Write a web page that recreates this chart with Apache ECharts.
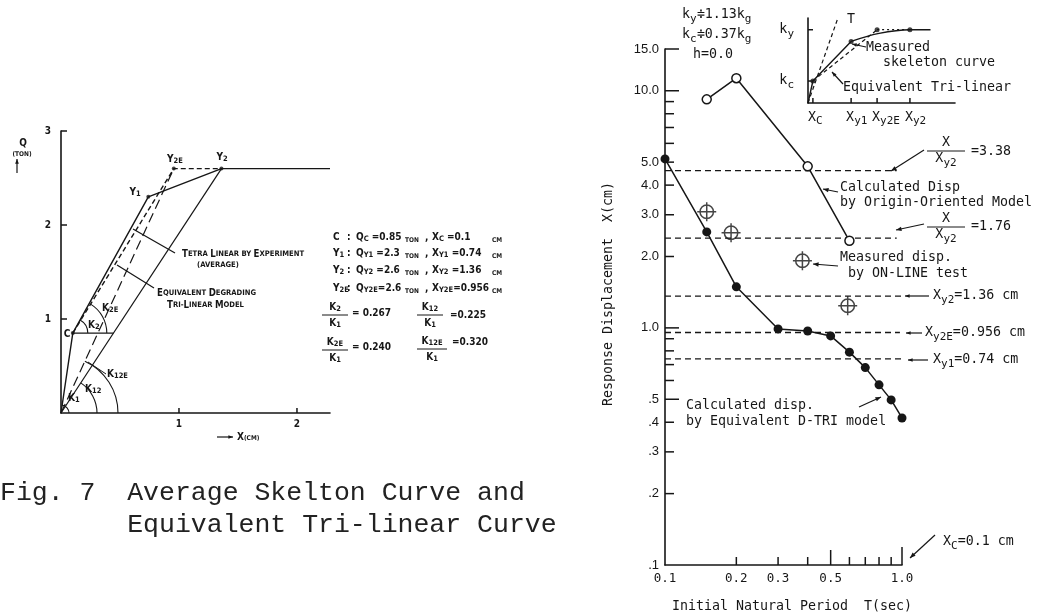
<!DOCTYPE html>
<html><head><meta charset="utf-8">
<script src="https://cdn.jsdelivr.net/npm/echarts@6/dist/echarts.min.js"></script>
<style>html,body{margin:0;padding:0;background:#fff}#c{width:1040px;height:616px}</style>
</head><body><div id="c"></div>
<script>
// ---------- Fig. 7 (left): skeleton curves, Q (ton) vs X (cm) ----------
const tetraLinear   = [[0,0],[0.1,0.85],[0.74,2.3],[1.36,2.6],[2.28,2.6]];
const triLinearEq   = [[0.1,0.85],[0.956,2.6],[1.36,2.6]];
const k12Line       = [[0,0],[1.36,2.6]];
const k12eLine      = [[0,0],[0.956,2.6]];
const cLevelLine    = [[0.1,0.85],[0.445,0.85]];
const keyPoints     = [[0.1,0.85],[0.74,2.3],[0.956,2.6],[1.36,2.6]];
const angleArcs     = [[0.1,0.85,0.74,2.3],[0.1,0.85,0.956,2.6],[0,0,1.36,2.6],[0,0,0.956,2.6],[0,0,0.1,0.85]];
const leftXTicks = [1,2];          const leftXLabels = ['1','2'];
const leftYTicks = [1,2,3];        const leftYLabels = ['1','2','3'];

// ---------- Right: response displacement vs initial natural period ----------
const periodDTri = [0.1,0.15,0.2,0.3,0.4,0.5,0.6,0.7,0.8,0.9,1.0];
const dispDTri   = [5.16,2.54,1.49,0.99,0.97,0.925,0.79,0.68,0.575,0.497,0.417];
const periodOrig = [0.15,0.2,0.4,0.6];
const dispOrig   = [9.2,11.3,4.8,2.33];
const periodMeas = [0.15,0.19,0.38,0.59];
const dispMeas   = [3.09,2.52,1.92,1.24];
const refLevels    = [4.6,2.39,1.36,0.956,0.74];   // 3.38*Xy2, 1.76*Xy2, Xy2, Xy2E, Xy1
const refLevelEnds = [0.95,0.95,1.0,0.98,1.0];
const yLongTicks  = [0.5,1,10,15];
const yShortTicks = [0.2,0.3,0.4,2,3,4,5,0.6,0.7,0.8,0.9,6,7,8,9];
const yLabelVals  = [0.1,0.2,0.3,0.4,0.5,1,2,3,4,5,10,15];
const yLabelText  = ['.1','.2','.3','.4','.5','1.0','2.0','3.0','4.0','5.0','10.0','15.0'];
const xShortTicks = [0.2,0.3,0.4,0.6,0.7,0.8,0.9];
const xMidTicks   = [0.5];
const xLongTicks  = [1.0];
const xLabelVals  = [0.1,0.2,0.3,0.5,1.0];
const xLabelText  = ['0.1','0.2','0.3','0.5','1.0'];

// ---------- Inset: schematic skeleton ----------
const insetMeasuredA = [[0,0],[0.1,0.3],[0.88,0.84]];
const insetMeasuredB = [[0.88,0.84],[1.45,0.95],[2.08,1.0],[2.5,1.0]];
const insetTriDashed = [[0.1,0.3],[1.41,1.0]];
const insetTriDotted = [[1.41,1.0],[2.08,1.0]];
const insetTangent   = [[0,0],[0.6,1.14]];
const insetDots      = [[0.1,0.3],[0.88,0.84],[1.41,1.0],[2.08,1.0]];
const insetXVals = [0.1,0.88,1.41,2.08]; const insetXText = ['X_{C}','X_{y1}','X_{y2E}','X_{y2}'];
const insetYVals = [1.0,0.3];            const insetYText = ['k_{y}','k_{c}'];

// ---------- styling ----------
const INK = '#161616';
const MONO = '"DejaVu Sans Mono","Liberation Mono",monospace';
const LEFTF = '"DejaVu Sans Condensed","Liberation Sans Narrow","DejaVu Sans",sans-serif';
const TICKF = '"Liberation Sans Narrow","Liberation Sans",Arial,sans-serif';
const R = {
  mono: {n:{fontFamily:MONO,fontSize:13.3,fill:INK}, s:{fontFamily:MONO,fontSize:11,fill:INK,padding:[8,0,0,0]}},
  left: {n:{fontFamily:LEFTF,fontSize:10,fontWeight:'bold',fill:INK}, s:{fontFamily:LEFTF,fontSize:7.5,fontWeight:'bold',fill:INK,padding:[5,0,0,0]},
         t:{fontFamily:LEFTF,fontSize:6.5,fontWeight:'bold',fill:INK,padding:[3,0,0,0]}},
  caps: {b:{fontFamily:LEFTF,fontSize:9.6,fontWeight:'bold',fill:INK}, s:{fontFamily:LEFTF,fontSize:7.6,fontWeight:'bold',fill:INK,padding:[1,0,0,0]}},
  tick: {n:{fontFamily:TICKF,fontSize:13,fill:INK}},
  xt: {n:{fontFamily:MONO,fontSize:12.5,fill:INK}}
};
function rt(str){ return '{n|' + str.replace(/_\{([^}]*)\}/g, '}{s|$1}{n|') + '}'; }
function txt(x,y,str,rich,align){ return {type:'text',x,y,silent:true,style:{text:rt(str),rich:rich||R.mono,align:align||'left',verticalAlign:'middle',fill:INK}}; }
function rawtxt(x,y,str,rich,align){ return {type:'text',x,y,silent:true,style:{text:str,rich:rich,align:align||'left',verticalAlign:'middle',fill:INK}}; }
function seg(x1,y1,x2,y2,w){ return {type:'line',silent:true,shape:{x1,y1,x2,y2},style:{stroke:INK,lineWidth:w||1.2}}; }
function arrow(x1,y1,x2,y2,h){
  h = h||6; const a = Math.atan2(y2-y1,x2-x1);
  return [seg(x1,y1,x2,y2,1.2), {type:'polygon',silent:true,shape:{points:[[x2,y2],[x2-h*Math.cos(a-0.38),y2-h*Math.sin(a-0.38)],[x2-h*Math.cos(a+0.38),y2-h*Math.sin(a+0.38)]]},style:{fill:INK}}];
}
function frac(cx,yTop,num,den,w,rich){
  return [txt(cx,yTop,num,rich,'center'), seg(cx-w/2,yTop+8,cx+w/2,yTop+8,1), txt(cx,yTop+16,den,rich,'center')];
}

// generic tick + label drawer through the axes' own scales
function tickSeries(o){
  return {
    type:'custom', xAxisIndex:o.xi, yAxisIndex:o.yi, silent:true, z:6, clip:false,
    dimensions:['x','y','i'], encode:{x:0,y:1},
    data:o.values.map((v,i)=> o.dir==='y' ? [o.at,v,i] : [v,o.at,i]),
    renderItem(params, api){
      const i = api.value(2);
      const p = api.coord([api.value(0), api.value(1)]);
      const ch = [];
      if (o.len){
        ch.push({type:'line',shape:o.dir==='y'?{x1:p[0],y1:p[1],x2:p[0]+o.len,y2:p[1]}:{x1:p[0],y1:p[1],x2:p[0],y2:p[1]-o.len},style:{stroke:INK,lineWidth:o.lw||1.5}});
      }
      if (o.labels){
        ch.push({type:'text', x:p[0]+(o.dir==='y'?-o.gap:(o.dx||0)), y:p[1]+(o.dir==='y'?0:o.gap),
          style:{text:rt(o.labels[i]),rich:o.rich,align:o.align||(o.dir==='y'?'right':'center'),verticalAlign:o.dir==='y'?'middle':'top',fill:INK}});
      }
      return {type:'group',children:ch};
    }
  };
}
function lineS(data,xi,yi,opts){
  return Object.assign({type:'line',xAxisIndex:xi,yAxisIndex:yi,data,symbol:'none',silent:true,clip:false,
    lineStyle:{color:INK,width:1.3}}, opts||{});
}

const chart = echarts.init(document.getElementById('c'), null, {renderer:'canvas'});
const axisLineStyle = {show:true,lineStyle:{color:INK,width:1.6}};
const hiddenBits = {axisTick:{show:false},axisLabel:{show:false},splitLine:{show:false}};

const graphic = [];
// --- left chart annotations
graphic.push(txt(23,143,'Q',R.left,'center'), rawtxt(22,153,'{t|(TON)}',R.left,'center'));
graphic.push(...arrow(17,173,17,159,5));
graphic.push(...arrow(217,437,233,437,5), rawtxt(237,437,'{n|X}{t|(CM)}',R.left));
graphic.push(txt(135,192,'Y_{1}',R.left,'center'), txt(175,159,'Y_{2E}',R.left,'center'), txt(222,157,'Y_{2}',R.left,'center'));
graphic.push(txt(67,334,'C',R.left,'center'), txt(88,325,'K_{2}',R.left), txt(102,308,'K_{2E}',R.left));
graphic.push(txt(107,374,'K_{12E}',R.left), txt(85,389,'K_{12}',R.left), txt(68,398,'K_{1}',R.left));
graphic.push(seg(88,362,106,374,1));
graphic.push(rawtxt(182,254,'{b|T}{s|ETRA }{b|L}{s|INEAR BY }{b|E}{s|XPERIMENT}',R.caps));
graphic.push(rawtxt(218,265,'{s|(AVERAGE)}',R.caps,'center'));
graphic.push(seg(175,253,133,229,1.2));
graphic.push(rawtxt(157,293,'{b|E}{s|QUIVALENT }{b|D}{s|EGRADING}',R.caps));
graphic.push(rawtxt(167,305,'{b|T}{s|RI-}{b|L}{s|INEAR }{b|M}{s|ODEL}',R.caps));
graphic.push(seg(154,288,117,265,1.2));
// parameter block
const rowsY = [237,253,270,288];
const rowHead = ['C','Y_{1}','Y_{2}','Y_{2E}'];
const rowQ = ['Q_{C} =0.85','Q_{Y1} =2.3','Q_{Y2} =2.6','Q_{Y2E}=2.6'];
const rowX = ['X_{C} =0.1','X_{Y1} =0.74','X_{Y2} =1.36','X_{Y2E}=0.956'];
rowsY.forEach((y,i)=>{
  graphic.push(txt(333,y,rowHead[i],R.left), txt(347,y,':',R.left), txt(356,y,rowQ[i],R.left),
    rawtxt(405,y+2,'{t|TON}',R.left), txt(425,y,',',R.left), txt(432,y,rowX[i],R.left), rawtxt(492,y+2,'{t|CM}',R.left));
});
graphic.push(...frac(335,307,'K_{2}','K_{1}',26,R.left), txt(352,313,'= 0.267',R.left));
graphic.push(...frac(430,307,'K_{12}','K_{1}',26,R.left), txt(450,315,'=0.225',R.left));
graphic.push(...frac(335,342,'K_{2E}','K_{1}',26,R.left), txt(352,347,'= 0.240',R.left));
graphic.push(...frac(432,341,'K_{12E}','K_{1}',30,R.left), txt(452,342,'=0.320',R.left));
// caption
graphic.push({type:'text',x:0,y:493,silent:true,style:{text:'Fig. 7  Average Skelton Curve and',fontFamily:'"Liberation Mono","Courier New",monospace',fontSize:26.5,fill:'#222',verticalAlign:'middle'}});
graphic.push({type:'text',x:0,y:525,silent:true,style:{text:'        Equivalent Tri-linear Curve',fontFamily:'"Liberation Mono","Courier New",monospace',fontSize:26.5,fill:'#222',verticalAlign:'middle'}});

// --- right chart annotations
graphic.push(txt(682,15,'k_{y}≑1.13k_{g}'), txt(682,35,'k_{c}≑0.37k_{g}'), txt(693,55,'h=0.0'));
graphic.push(txt(840,188,'Calculated Disp'), txt(840,203,'by Origin-Oriented Model'));
graphic.push(...arrow(838,192,823,189));
graphic.push(txt(840,258,'Measured disp.'), txt(840,274,' by ON-LINE test'));
graphic.push(...arrow(838,266,813,264));
graphic.push(txt(686,406,'Calculated disp.'), txt(686,422,'by Equivalent D-TRI model'));
graphic.push(...arrow(859,407,881,397));
graphic.push(...frac(946,143,'X','X_{y2}',38), txt(971,152,'=3.38'));
graphic.push(...arrow(924,150,891,171));
graphic.push(...frac(946,219,'X','X_{y2}',38), txt(971,227,'=1.76'));
graphic.push(...arrow(924,224,896,230));
graphic.push(...arrow(929,296,905,296,5), txt(933,296,'X_{y2}=1.36 cm'));
graphic.push(...arrow(922,333,906,333,5), txt(925,333,'X_{y2E}=0.956 cm'));
graphic.push(...arrow(928,360,908,360,5), txt(933,360,'X_{y1}=0.74 cm'));
graphic.push(...arrow(935,535,910,558), txt(943,542,'X_{C}=0.1 cm'));
graphic.push({type:'text',x:609,y:294,rotation:Math.PI/2,silent:true,style:{text:'Response Displacement  X(cm)',fontFamily:MONO,fontSize:13.3,fill:INK,align:'center',verticalAlign:'middle'}});
graphic.push(txt(792,607,'Initial Natural Period  T(sec)',R.mono,'center'));
// inset annotations
graphic.push(txt(847,20,'T'));
graphic.push(txt(866,48,'Measured'), txt(883,63,'skeleton curve'), txt(843,88,'Equivalent Tri-linear'));
graphic.push(...arrow(866,47,852,44,5), ...arrow(843,84,832,72,5));

const measSymbol = 'path://M3.5,12A8.5,8.5 0 1,1 20.5,12A8.5,8.5 0 1,1 3.5,12Z M12,0L12,24 M0,12L24,12';

const option = {
  animation:false,
  backgroundColor:'#fff',
  grid:[
    {left:61, top:131, width:269, height:282},
    {left:665, top:49, width:237, height:516},
    {left:808, top:18, width:147, height:85}
  ],
  xAxis:[
    Object.assign({type:'value',gridIndex:0,min:0,max:2.28,axisLine:axisLineStyle},hiddenBits),
    Object.assign({type:'log',logBase:10,gridIndex:1,min:0.1,max:1.0,axisLine:axisLineStyle},hiddenBits),
    Object.assign({type:'value',gridIndex:2,min:0,max:3,axisLine:axisLineStyle},hiddenBits)
  ],
  yAxis:[
    Object.assign({type:'value',gridIndex:0,min:0,max:3,axisLine:axisLineStyle},hiddenBits),
    Object.assign({type:'log',logBase:10,gridIndex:1,min:0.1,max:15,axisLine:axisLineStyle},hiddenBits),
    Object.assign({type:'value',gridIndex:2,min:0,max:1.16,axisLine:axisLineStyle},hiddenBits)
  ],
  graphic:{elements:graphic},
  series:[
    // left
    lineS(tetraLinear,0,0,{lineStyle:{color:INK,width:1.4}}),
    lineS(triLinearEq,0,0,{lineStyle:{color:INK,width:1.4,type:[5,3]}}),
    lineS(k12Line,0,0,{lineStyle:{color:INK,width:1.2}}),
    lineS(k12eLine,0,0,{lineStyle:{color:INK,width:1.2,type:[10,5]}}),
    lineS(cLevelLine,0,0,{lineStyle:{color:INK,width:1.2}}),
    {type:'scatter',xAxisIndex:0,yAxisIndex:0,data:keyPoints,symbol:'circle',symbolSize:4,itemStyle:{color:INK},silent:true},
    {type:'custom',xAxisIndex:0,yAxisIndex:0,silent:true,clip:false,data:angleArcs,encode:{x:[0,2],y:[1,3]},
      renderItem(params,api){
        const radii = [15,34,36,57,8];
        const c = api.coord([api.value(0),api.value(1)]);
        const t = api.coord([api.value(2),api.value(3)]);
        const ang = Math.atan2(c[1]-t[1], t[0]-c[0]);
        return {type:'arc',shape:{cx:c[0],cy:c[1],r:radii[params.dataIndex],startAngle:-ang,endAngle:0,clockwise:true},style:{fill:null,stroke:INK,lineWidth:1.1}};
      }},
    tickSeries({xi:0,yi:0,dir:'y',at:0,values:leftYTicks,labels:leftYLabels,len:6,gap:10,rich:R.left}),
    tickSeries({xi:0,yi:0,dir:'x',at:0,values:leftXTicks,labels:leftXLabels,len:5,gap:6,rich:R.left}),
    // right
    ...refLevels.map((v,i)=>lineS([[0.1,v],[refLevelEnds[i],v]],1,1,{lineStyle:{color:INK,width:1.3,type:[6,4]}})),
    {type:'line',xAxisIndex:1,yAxisIndex:1,data:periodDTri.map((t,i)=>[t,dispDTri[i]]),symbol:'circle',symbolSize:9,showAllSymbol:true,clip:false,silent:true,
      itemStyle:{color:INK},lineStyle:{color:INK,width:1.5},z:4},
    {type:'line',xAxisIndex:1,yAxisIndex:1,data:periodOrig.map((t,i)=>[t,dispOrig[i]]),symbol:'circle',symbolSize:9,showAllSymbol:true,clip:false,silent:true,
      itemStyle:{color:'#fff',borderColor:INK,borderWidth:1.5},lineStyle:{color:INK,width:1.5},z:4},
    {type:'scatter',xAxisIndex:1,yAxisIndex:1,data:periodMeas.map((t,i)=>[t,dispMeas[i]]),symbol:measSymbol,symbolSize:19,silent:true,
      itemStyle:{color:'rgba(0,0,0,0)',borderColor:INK,borderWidth:1.5},z:5},
    tickSeries({xi:1,yi:1,dir:'y',at:0.1,values:yLongTicks,len:14}),
    tickSeries({xi:1,yi:1,dir:'y',at:0.1,values:yShortTicks,len:9}),
    tickSeries({xi:1,yi:1,dir:'y',at:0.1,values:yLabelVals,labels:yLabelText,gap:6,rich:R.tick}),
    tickSeries({xi:1,yi:1,dir:'x',at:0.1,values:xShortTicks,len:8}),
    tickSeries({xi:1,yi:1,dir:'x',at:0.1,values:xMidTicks,len:15}),
    tickSeries({xi:1,yi:1,dir:'x',at:0.1,values:xLongTicks,len:18}),
    tickSeries({xi:1,yi:1,dir:'x',at:0.1,values:xLabelVals,labels:xLabelText,gap:7,rich:R.xt}),
    // inset
    lineS(insetMeasuredA,2,2,{lineStyle:{color:INK,width:1.4}}),
    lineS(insetMeasuredB,2,2,{smooth:0.4,lineStyle:{color:INK,width:1.4}}),
    lineS(insetTriDashed,2,2,{lineStyle:{color:INK,width:1.2,type:[4,3]}}),
    lineS(insetTriDotted,2,2,{lineStyle:{color:INK,width:1.2,type:[2,3]}}),
    lineS(insetTangent,2,2,{lineStyle:{color:INK,width:1.2,type:[4,3]}}),
    {type:'scatter',xAxisIndex:2,yAxisIndex:2,data:insetDots,symbol:'circle',symbolSize:5,itemStyle:{color:INK},silent:true},
    tickSeries({xi:2,yi:2,dir:'y',at:0,values:insetYVals,labels:insetYText,len:5,gap:14,rich:R.mono}),
    tickSeries({xi:2,yi:2,dir:'x',at:0,values:insetXVals,labels:insetXText,len:5,gap:5,rich:R.mono,align:'left',dx:-5})
  ]
};
chart.setOption(option);
</script></body></html>
